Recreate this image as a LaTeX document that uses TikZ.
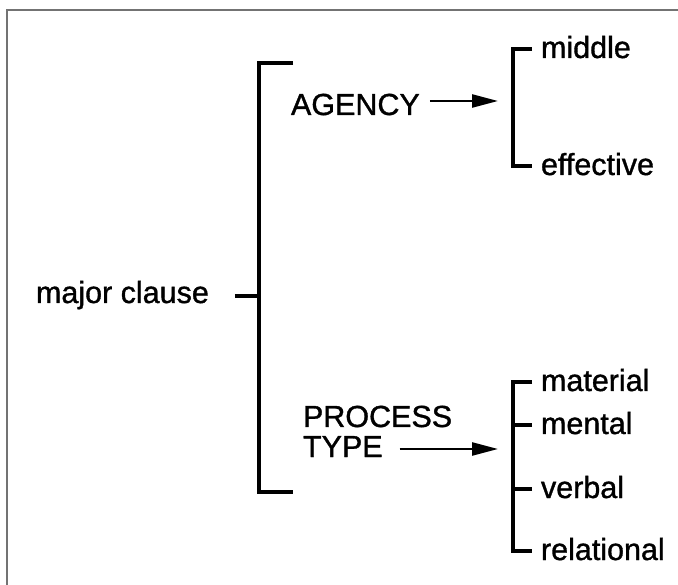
\documentclass[tikz,border=0pt]{standalone}
\usepackage{fontspec}
\setmainfont[FakeBold=1.1]{Liberation Sans}
\usetikzlibrary{arrows.meta}
\begin{document}
\begin{tikzpicture}[x=1pt,y=-1pt,
  lbl/.style={font=\fontsize{30.5}{30}\selectfont, inner sep=0pt, outer sep=0pt, anchor=base west},
  bigbr/.style={line width=4.5pt},
  smallbr/.style={line width=3.5pt},
  arr/.style={line width=2.5pt, -{Triangle[length=26pt,width=13pt]}},
  frame/.style={draw=black!55, line width=1.5pt}
]
\useasboundingbox (0,0) rectangle (678,585);
\draw[frame] (7,585) -- (7,10) -- (678,10);

% labels
\node[lbl] (mc) at (36,303) {major clause};
\node[lbl] (agency) at (291,115) {AGENCY};
\node[lbl] (proc) at (303,427) {PROCESS};
\node[lbl] (type) at (303,457) {TYPE};
\node[lbl] (middle) at (541,58) {middle};
\node[lbl] (effective) at (541,175) {effective};
\node[lbl] (material) at (541,391) {material};
\node[lbl] (mental) at (541,434) {mental};
\node[lbl] (verbal) at (541,498) {verbal};
\node[lbl] (relational) at (541,560) {relational};

% big bracket
\coordinate (bigtop) at (259,63);
\coordinate (bigbot) at (259,492);
\coordinate (bigmid) at (259,296);
\draw[bigbr] (agency.west |- bigtop) ++(2,0) -- (bigtop) -- (bigbot) -- ++(34,0);
\draw[bigbr] (mc.east |- bigmid) ++(26,0) -- (bigmid);

% agency arrow and bracket
\coordinate (agtip) at (498,101);
\draw[arr] (agency.east |- agtip) ++(10,0) -- (agtip);
\draw[smallbr] ([xshift=-9pt,yshift=9pt]middle.base west) -| ([xshift=-28pt,yshift=9pt]effective.base west) -- ([xshift=-9pt,yshift=9pt]effective.base west);

% process type arrow and bracket
\coordinate (pttip) at (498,449);
\draw[arr] (type.east |- pttip) ++(17,0) -- (pttip);
\draw[smallbr] ([xshift=-9pt,yshift=9pt]material.base west) -| ([xshift=-28pt,yshift=9pt]relational.base west) -- ([xshift=-9pt,yshift=9pt]relational.base west);
\draw[smallbr] ([xshift=-9pt,yshift=9pt]mental.base west) -- ++(-19,0);
\draw[smallbr] ([xshift=-9pt,yshift=9pt]verbal.base west) -- ++(-19,0);
\end{tikzpicture}
\end{document}
